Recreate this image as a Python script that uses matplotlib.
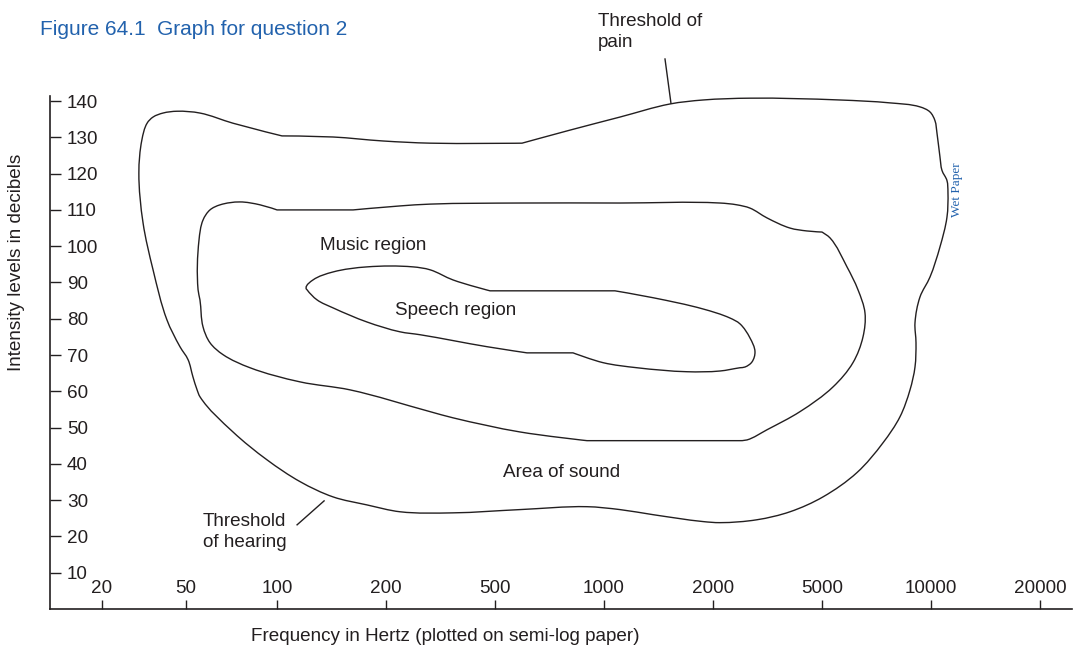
import numpy as np
import matplotlib
matplotlib.use("Agg")
import matplotlib.pyplot as plt
from matplotlib.ticker import FixedLocator, NullLocator
from matplotlib.path import Path
from matplotlib.patches import PathPatch

# ---------------- data ----------------
freq_ticks = [20, 50, 100, 200, 500, 1000, 2000, 5000, 10000, 20000]
freq_tick_labels = ["20", "50", "100", "200", "500", "1000", "2000", "5000", "10000", "20000"]
db_ticks = [10, 20, 30, 40, 50, 60, 70, 80, 90, 100, 110, 120, 130, 140]

# Area of sound (threshold of hearing .. threshold of pain), Hz / dB
outer_hz = [32.7, 34.9, 38.9, 45.3, 55.6, 71.5, 103.2, 142.8, 196.3, 289.5, 593.8,
            805.7, 1107, 1521, 1877, 2730, 5607, 7709, 9325, 9938, 10258, 10389, 10589,
            10725, 11071, 11141, 11071, 10589, 9938, 9325, 9034, 9092, 9034, 8752, 8213,
            7369, 6246, 5032, 3821, 2895, 2121, 1877, 1366, 1107, 897.6, 586, 351, 225,
            177, 142.8, 115.8, 92.7, 71.5, 55.6, 54.4, 52.7, 50.8, 46.8, 40.6, 34.9, 31.3,
            29.9, 30.9]
outer_db = [133.9, 135.6, 136.7, 137.2, 136.7, 133.9, 130.4, 130.1, 129.0, 128.4, 128.4,
            132.0, 135.6, 139.2, 140.3, 140.8, 140.3, 139.5, 138.4, 137.0, 134.6, 131.2, 124.6,
            120.9, 118.1, 114.9, 108.0, 99.8, 91.5, 86.0, 78.9, 73.4, 66.7, 60.4, 53.0,
            45.8, 37.6, 30.9, 26.8, 24.6, 23.8, 24.1, 26.0, 27.4, 28.2, 27.4, 26.5, 26.8,
            28.7, 30.9, 35.1, 41.1, 48.8, 58.5, 60.4, 64.0, 68.7, 72.3, 79.7, 93.5, 106.4,
            120.2, 129.3]
outer_corners = [6, 10]

# Music region
music_hz = [56.9, 60.0, 64.8, 75.4, 87.9, 100, 162.2, 225, 289.5, 586, 1107, 2121, 2447,
            2730, 3149, 3821, 4407, 5000, 5261, 5862, 6286, 6573, 6490, 6089, 5362, 4156,
            3149, 2662, 2509, 897.6, 586, 351, 289.5, 159.1, 115.8, 81.4, 66.3, 60.0, 56.9,
            55.6, 54.8, 55.2]
music_db = [107.2, 110.0, 111.4, 112.2, 111.4, 110.0, 110.0, 111.1, 111.6, 111.9, 111.9, 111.9,
            111.4, 110.5, 107.8, 105.0, 104.2, 103.9, 102.3, 94.3, 88.0, 81.6, 75.0, 67.9,
            61.2, 54.4, 49.4, 46.6, 46.4, 46.4, 48.8, 52.7, 54.4, 60.4, 62.6, 66.5, 70.1,
            73.4, 77.8, 85.2, 88.0, 101.7]
music_corners = [5, 6, 17, 28, 29]

# Speech region
speech_hz = [120.2, 125.7, 142.8, 177.3, 250.9, 289.5, 351.3, 479.5, 1072, 1366, 1877, 2307,
             2509, 2730, 2847, 2776, 2618, 2509, 2121, 1696, 1233, 993.8, 821.2, 612.8,
             467.5, 266.2, 225, 177.3, 142.8, 129.0, 121.0]
speech_db = [88.5, 90.7, 92.9, 94.3, 94.3, 93.5, 90.7, 87.7, 87.7, 85.8, 82.7, 80.2,
             78.6, 74.7, 70.9, 68.1, 66.7, 66.5, 65.6, 65.4, 66.5, 67.9, 70.6, 70.6,
             72.3, 75.6, 76.4, 79.1, 83.0, 85.2, 88.0]
speech_corners = [7, 8, 22, 23]

# leader lines for the threshold labels
pain_leader_hz = [1531, 1474]
pain_leader_db = [139.4, 151.6]
hearing_leader_hz = [134.9, 113.6]
hearing_leader_db = [29.8, 23.2]

# ---------------- axis mapping (labelled "semi-log" paper) ----------------
paper_pos = np.array([0.0, 0.771, 1.606, 2.606, 3.606, 4.606, 5.606, 6.606, 7.606, 8.606])
log_ticks = np.log10(np.array(freq_ticks, dtype=float))


def _fwd(f):
    lf = np.log10(np.clip(np.asarray(f, dtype=float), 1e-6, None))
    p = np.interp(lf, log_ticks, paper_pos)
    s0 = (paper_pos[1] - paper_pos[0]) / (log_ticks[1] - log_ticks[0])
    s1 = (paper_pos[-1] - paper_pos[-2]) / (log_ticks[-1] - log_ticks[-2])
    p = np.where(lf < log_ticks[0], paper_pos[0] + (lf - log_ticks[0]) * s0, p)
    p = np.where(lf > log_ticks[-1], paper_pos[-1] + (lf - log_ticks[-1]) * s1, p)
    return p


def _inv(p):
    p = np.asarray(p, dtype=float)
    lf = np.interp(p, paper_pos, log_ticks)
    s0 = (log_ticks[1] - log_ticks[0]) / (paper_pos[1] - paper_pos[0])
    s1 = (log_ticks[-1] - log_ticks[-2]) / (paper_pos[-1] - paper_pos[-2])
    lf = np.where(p < paper_pos[0], log_ticks[0] + (p - paper_pos[0]) * s0, lf)
    lf = np.where(p > paper_pos[-1], log_ticks[-1] + (p - paper_pos[-1]) * s1, lf)
    return 10 ** lf


def smooth_closed_path(ax, hz, db, corners):
    """Closed Bezier stroke through the read points (sharp at the given corners)."""
    pts = ax.transData.transform(np.column_stack([hz, db]))
    n = len(pts)

    def unit(v):
        L = np.hypot(*v)
        return v / L if L > 0 else v * 0

    tangents = []
    for i in range(n):
        if i in corners:
            tangents.append(np.zeros(2))
        else:
            a = unit(pts[i] - pts[i - 1])
            b = unit(pts[(i + 1) % n] - pts[i])
            tangents.append(unit(a + b))
    verts = [pts[0]]
    codes = [Path.MOVETO]
    for i in range(n):
        j = (i + 1) % n
        d = np.hypot(*(pts[j] - pts[i]))
        verts += [pts[i] + tangents[i] * d / 3, pts[j] - tangents[j] * d / 3, pts[j]]
        codes += [Path.CURVE4] * 3
    data_verts = ax.transData.inverted().transform(np.array(verts))
    return Path(data_verts, codes)


# ---------------- figure ----------------
plt.rcParams['font.family'] = ['Liberation Sans', 'DejaVu Sans']
INK = '#231f20'
BLUE = '#2262ad'
FS = 13.6

W, H = 1089, 646
fig = plt.figure(figsize=(W / 100, H / 100), dpi=100)
ax = fig.add_axes([50 / W, 37 / H, 1022 / W, 513 / H])
ax.set_xscale('function', functions=(_fwd, _inv))
ax.set_xlim(_inv(-0.477), _inv(8.9))
ax.set_ylim(0, 141.4)

for hz, db, cr in ((outer_hz, outer_db, outer_corners),
                   (music_hz, music_db, music_corners),
                   (speech_hz, speech_db, speech_corners)):
    ax.add_patch(PathPatch(smooth_closed_path(ax, hz, db, cr), fill=False,
                           edgecolor=INK, lw=1.0, joinstyle='round'))

ax.plot(pain_leader_hz, pain_leader_db, color=INK, lw=1.0, clip_on=False)
ax.plot(hearing_leader_hz, hearing_leader_db, color=INK, lw=1.0, clip_on=False)

# spines / ticks
for s in ('top', 'right'):
    ax.spines[s].set_visible(False)
for s in ('left', 'bottom'):
    ax.spines[s].set_color(INK)
    ax.spines[s].set_linewidth(1.2)

ax.xaxis.set_major_locator(FixedLocator(freq_ticks))
ax.xaxis.set_minor_locator(NullLocator())
ax.set_xticklabels(freq_tick_labels)
ax.set_yticks(db_ticks)
ax.yaxis.set_minor_locator(NullLocator())

ax.tick_params(axis='x', direction='in', length=6.5, width=1.0, color=INK,
               labelsize=FS, labelcolor=INK, pad=-21)
ax.tick_params(axis='y', direction='in', length=8, width=1.0, color=INK,
               labelsize=FS, labelcolor=INK, pad=-12.2)
for lab in ax.get_yticklabels():
    lab.set_horizontalalignment('left')

ax.set_xlabel('Frequency in Hertz (plotted on semi-log paper)', fontsize=FS, color=INK,
              va='baseline')
ax.xaxis.set_label_coords((445 - 50) / 1022, (609 - 641) / 513)
ax.set_ylabel('Intensity levels in decibels', fontsize=FS, color=INK, va='center')
ax.yaxis.set_label_coords((17 - 50) / 1022, (609 - 262) / 513)

# region labels
ax.text(131.5, 99.0, 'Music region', fontsize=FS, color=INK, ha='left', va='baseline')
ax.text(215.7, 81.1, 'Speech region', fontsize=FS, color=INK, ha='left', va='baseline')
ax.text(526, 36.4, 'Area of sound', fontsize=FS, color=INK, ha='left', va='baseline')
ax.text(963, 164.2, 'Threshold of\npain', fontsize=FS, color=INK, ha='left', va='top',
        linespacing=1.3, clip_on=False)
ax.text(56.9, 26.5, 'Threshold\nof hearing', fontsize=FS, color=INK, ha='left', va='top',
        linespacing=1.3)
ax.text(11797, 115.5, 'Wet Paper', fontsize=9.5, color=BLUE, rotation=90,
        ha='center', va='center', family=['Liberation Serif', 'DejaVu Serif'])

fig.text(40 / W, 1 - 35 / H, 'Figure 64.1  Graph for question 2', fontsize=15,
         color=BLUE, ha='left', va='baseline')

fig.savefig('out.png', dpi=100, facecolor='white')
